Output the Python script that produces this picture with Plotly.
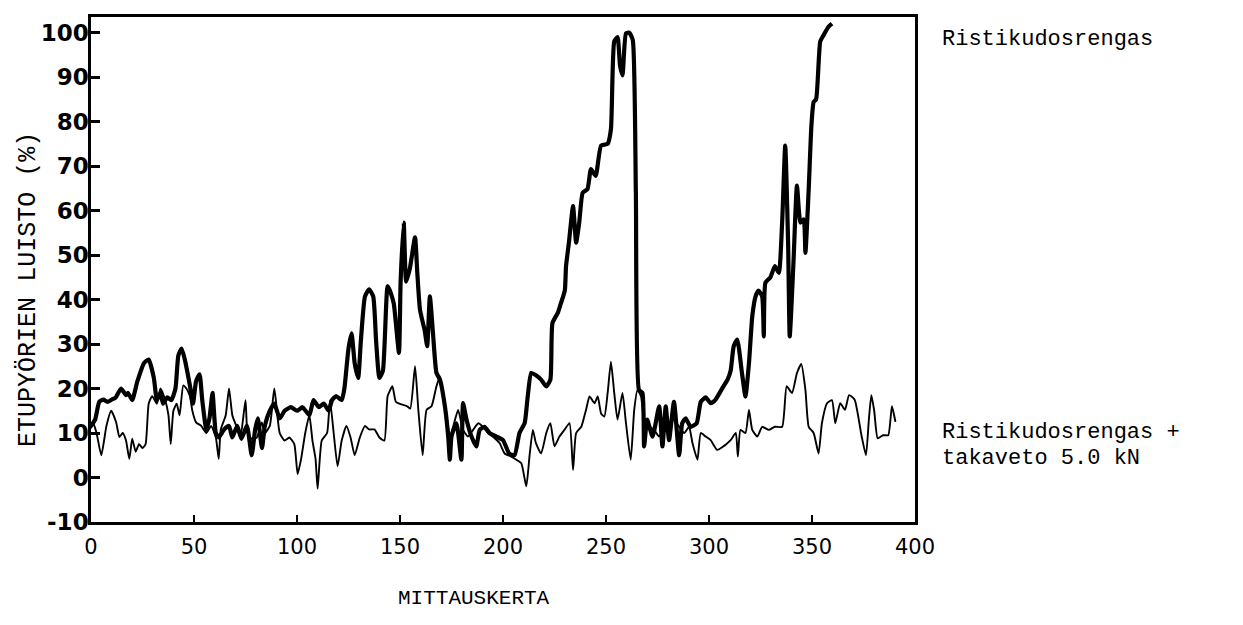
import plotly.graph_objects as go

# Measurement index (MITTAUSKERTA) and front-wheel slip (%) for the cross-ply tyre
cross_x = [0, 2, 4, 6, 8, 10, 12, 14.6, 17, 18, 20, 22.5, 25.7, 28, 30.5, 32, 33.7, 35, 37, 39,
           41, 42.4, 44, 45.5, 48, 49.5, 51, 52.7, 54, 56, 57.5, 59, 60.6, 62, 64.6, 67, 68.6, 71,
           73, 75.7, 78, 79.7, 81, 83, 84.4, 86.8, 89, 91.6, 94, 97, 100, 102.7, 106, 108, 110.6,
           113, 115.4, 117, 119, 121.7, 123, 125, 126.5, 128, 129.7, 131, 133, 135, 137, 138.4,
           140, 141.7, 144, 145.5, 147, 149.5, 150.3, 151.8, 153, 154.8, 157.3, 158.4, 159.7, 162,
           163.2, 164.5, 166, 167.7, 169.4, 171.8, 173.4, 174.2, 175, 177.4, 179.8, 180.6, 182.3,
           184.7, 187, 188.7, 191, 193.5, 196.8, 200, 203, 205.6, 208, 210.5, 212, 213.7, 216,
           218.5, 221, 223, 224, 226.6, 228, 230, 230.6, 232, 234, 235.5, 237, 238.7, 241, 242.7,
           245, 247.6, 250.8, 252.4, 254, 255.6, 256.8, 258, 259.7, 261.3, 263, 264.5, 266, 267.7,
           268.5, 270, 272.6, 275.8, 277.4, 279, 280.6, 283, 285.5, 287, 288.7, 291, 294, 296,
           298.4, 300.8, 303, 307, 309, 310.5, 312, 313.7, 316, 317.7, 319.4, 321, 322.6, 324,
           325.8, 326.6, 327.4, 329.8, 332, 333.9, 335.5, 337, 338.4, 339.2, 341, 342.7, 344.4,
           346, 346.8, 348.4, 349.7, 350.8, 352, 354, 355.6, 358, 359.7]
cross_y = [11.6, 13, 17, 17.5, 17, 17.5, 18, 20, 18.5, 19, 17.4, 21.6, 25.7, 26.5, 22.4, 17.4,
           19, 16.6, 18, 17.4, 20, 27.4, 29, 26.6, 20.7, 16.6, 21.6, 23.2, 17.4, 10.8, 13.3, 19,
           10, 9, 10.8, 11.6, 9, 11.6, 8.7, 11.6, 5, 10.8, 13.3, 6.6, 11.6, 15, 16.6, 13.3, 15,
           15.8, 15, 15.8, 14, 17.4, 15.8, 16.6, 15, 17.4, 18.3, 17.4, 20, 29, 32.4, 25.7, 22.4,
           30.7, 40.7, 42.3, 40.7, 30.7, 22.4, 24, 43, 41.5, 39, 28, 44, 57.3, 44, 47, 54, 46,
           37.7, 33, 29.5, 40.7, 32.5, 23.5, 22, 16, 9.2, 4, 9.2, 12.2, 4, 16.7, 13, 9.2, 7, 10.7,
           11.4, 10, 9.2, 8.4, 5.4, 5, 10, 12.2, 18.2, 23.5, 23, 22, 20.5, 22, 34.7, 37, 39, 42,
           47.5, 52.8, 61, 52.8, 57.3, 64, 64.8, 69.3, 67.8, 74.6, 75, 78.3, 98, 99, 92.6, 90.4,
           99.8, 100, 98.3, 64, 19.7, 19, 7, 13, 9.2, 16, 7, 16, 8.4, 17, 5, 12.2, 13.3, 11.4,
           12.2, 17, 18, 16.7, 17.4, 20.5, 22, 24, 29.5, 31, 23.5, 18.2, 25.7, 36.2, 40.7, 42,
           40.7, 31.7, 43.8, 45, 47.5, 46, 57.3, 74.6, 52.8, 31.7, 48.3, 65.6, 57.3, 58, 50.5,
           64.8, 79, 84.4, 85, 98, 99.4, 101.3, 102]

# Same tyre with 5.0 kN rear pull
pull_x = [0, 1, 2.7, 5, 7.5, 9.8, 12.2, 13.8, 15.4, 17, 18.6, 20, 21.7, 23.3, 25, 26.5, 28, 29.7,
          32, 33.7, 36, 37.6, 38.7, 40, 41.6, 43, 44.8, 46.3, 48, 49.2, 51, 53.5, 56, 58.3, 60.6,
          62, 63, 65.4, 67, 68.6, 70.5, 72.5, 75, 76, 78, 80.5, 82.9, 84.4, 86.8, 89, 91.6, 94,
          96.3, 98.7, 100.3, 102, 104, 106, 107.5, 109, 110, 112, 114.6, 116, 117.8, 119.7,
          121.7, 124, 126, 128, 130.5, 133, 135, 137.6, 140, 142.4, 144, 146.3, 148, 150.3,
          153.5, 155, 157.3, 158.9, 161, 162.9, 165.3, 167.7, 169.4, 171.8, 174.2, 175.8, 178.2,
          180.6, 183, 185.5, 188, 190.3, 192.7, 195, 198.4, 200.8, 204, 206.5, 208.9, 211.3,
          213, 214.5, 216, 218.5, 221, 223, 225, 227.4, 229.8, 232.3, 234, 235.5, 238, 240.3,
          242, 244.4, 246, 247.6, 249.2, 250.8, 252.4, 254, 255.6, 258, 259.7, 262, 263.7, 265.3,
          267, 268.5, 271, 273.4, 275.8, 278.2, 280.6, 283, 285.5, 288, 290.3, 292, 294.4, 296,
          298.4, 300.8, 304, 307, 310.5, 313, 314, 315.3, 317.7, 319.4, 321, 323.5, 325.8, 329,
          332, 335.5, 337.7, 340.3, 342.7, 344.8, 346.8, 348.4, 350.8, 353.2, 354.8, 357.3,
          359.7, 361.3, 363.7, 366, 368, 370.7, 374, 376.2, 377.6, 378.8, 380.2, 381.9, 384.5,
          387, 388.8, 390.5]
pull_y = [11, 12.4, 10, 5, 11.6, 15, 12.4, 9.1, 10, 8.3, 4.2, 8.7, 5.8, 7.5, 6.6, 7.5, 16.6, 18.3,
          16.6, 20, 17.4, 14, 7.5, 15, 16.6, 14, 20.7, 20, 18.3, 15, 12.4, 11.6, 10, 11.6, 9, 4.2,
          10.8, 14, 20, 14, 11.6, 9, 17.4, 10, 8.7, 9, 12.4, 10, 11.6, 20, 10, 8.3, 9, 7.5, 0.8,
          4.2, 10, 14, 8.3, 4.2, -2.5, 8.3, 10, 17.4, 10, 2.5, 8.3, 11.6, 9, 5, 9, 11.6, 10.8,
          10.8, 9, 8.3, 18.3, 20.5, 17, 16.5, 16, 15.5, 25, 15.2, 5, 15.2, 16, 20.5, 22.7, 16.7,
          9.2, 11.4, 15.2, 10.7, 9.2, 10.7, 12.2, 11.4, 10, 9.2, 7.7, 5.4, 4.7, 4, 3.2, -2, 5.4,
          10.7, 7.7, 5.4, 10, 12.2, 7, 9.2, 10.7, 12.2, 1.7, 10, 11.4, 15.2, 18.2, 16.7, 18.2,
          14.4, 13.7, 19, 26, 19, 13, 19, 12.2, 4, 15.2, 19.7, 18.2, 13, 11.4, 10.7, 9.2, 11.4,
          12.2, 13, 11.4, 10, 11.4, 7.7, 4, 10, 9.2, 8.4, 6.2, 7, 8.4, 10, 4.7, 10.7, 10, 15.2,
          10.7, 9.2, 11.4, 10.7, 11.4, 11.4, 20.5, 19, 23.5, 25.5, 19.7, 11.4, 10, 5.4, 12.2, 16.7,
          17.4, 12.2, 16.7, 15.2, 18.5, 17.5, 9.5, 5, 13, 18.5, 15, 8.8, 9.5, 9.5, 16, 12.5]

y_ticks = [-10, 0, 10, 20, 30, 40, 50, 60, 70, 80, 90, 100]
y_tick_text = ["-10", "0", "10", "20", "30", "40", "50", "60", "70", "80", "90", "100"]
x_ticks = [0, 50, 100, 150, 200, 250, 300, 350, 400]

mono = "Liberation Mono, DejaVu Sans Mono, monospace"

fig = go.Figure()
fig.add_trace(go.Scatter(
    x=cross_x, y=cross_y, mode="lines",
    line=dict(color="black", width=4.2, shape="spline", smoothing=0.5),
    name="Ristikudosrengas", showlegend=False, hoverinfo="skip",
))
fig.add_trace(go.Scatter(
    x=pull_x, y=pull_y, mode="lines",
    line=dict(color="black", width=1.9, shape="spline", smoothing=0.5),
    name="Ristikudosrengas + takaveto 5.0 kN", showlegend=False, hoverinfo="skip",
))

fig.update_xaxes(
    range=[0, 400], tickvals=x_ticks, ticks="inside", ticklen=7, tickwidth=2,
    tickcolor="black", showline=True, linecolor="black", linewidth=2.5, mirror=True,
    showgrid=False, zeroline=False, ticklabelstandoff=4,
    tickfont=dict(family="DejaVu Sans", size=21, color="black"),
)
fig.update_yaxes(
    range=[-10, 103.5], tickvals=y_ticks, ticktext=y_tick_text, ticks="inside", ticklen=9,
    tickwidth=2.5, tickcolor="black", showline=True, linecolor="black", linewidth=2.5,
    mirror=True, showgrid=False, zeroline=False, ticklabelstandoff=-5,
    tickfont=dict(family="DejaVu Sans", size=23, color="black", weight="bold"),
)

fig.update_layout(
    width=1243, height=625,
    margin=dict(l=91, r=328, t=17, b=103),
    paper_bgcolor="white", plot_bgcolor="white",
    annotations=[
        dict(text="ETUPYÖRIEN LUISTO (%)", xref="paper", yref="paper", x=-0.075, y=0.46,
             textangle=-90, showarrow=False, xanchor="center", yanchor="middle",
             font=dict(family=mono, size=25, color="black")),
        dict(text="MITTAUSKERTA", xref="paper", yref="paper", x=0.465, y=-0.152,
             showarrow=False, xanchor="center", yanchor="middle",
             font=dict(family=mono, size=21, color="black")),
        dict(text="Ristikudosrengas", xref="paper", yref="paper", x=1.03, y=0.955,
             showarrow=False, xanchor="left", yanchor="middle",
             font=dict(family=mono, size=22, color="black")),
        dict(text="Ristikudosrengas +", xref="paper", yref="paper", x=1.03, y=0.178,
             showarrow=False, xanchor="left", yanchor="middle",
             font=dict(family=mono, size=22, color="black")),
        dict(text="takaveto 5.0 kN", xref="paper", yref="paper", x=1.03, y=0.126,
             showarrow=False, xanchor="left", yanchor="middle",
             font=dict(family=mono, size=22, color="black")),
    ],
)

fig.write_html("out.html")
